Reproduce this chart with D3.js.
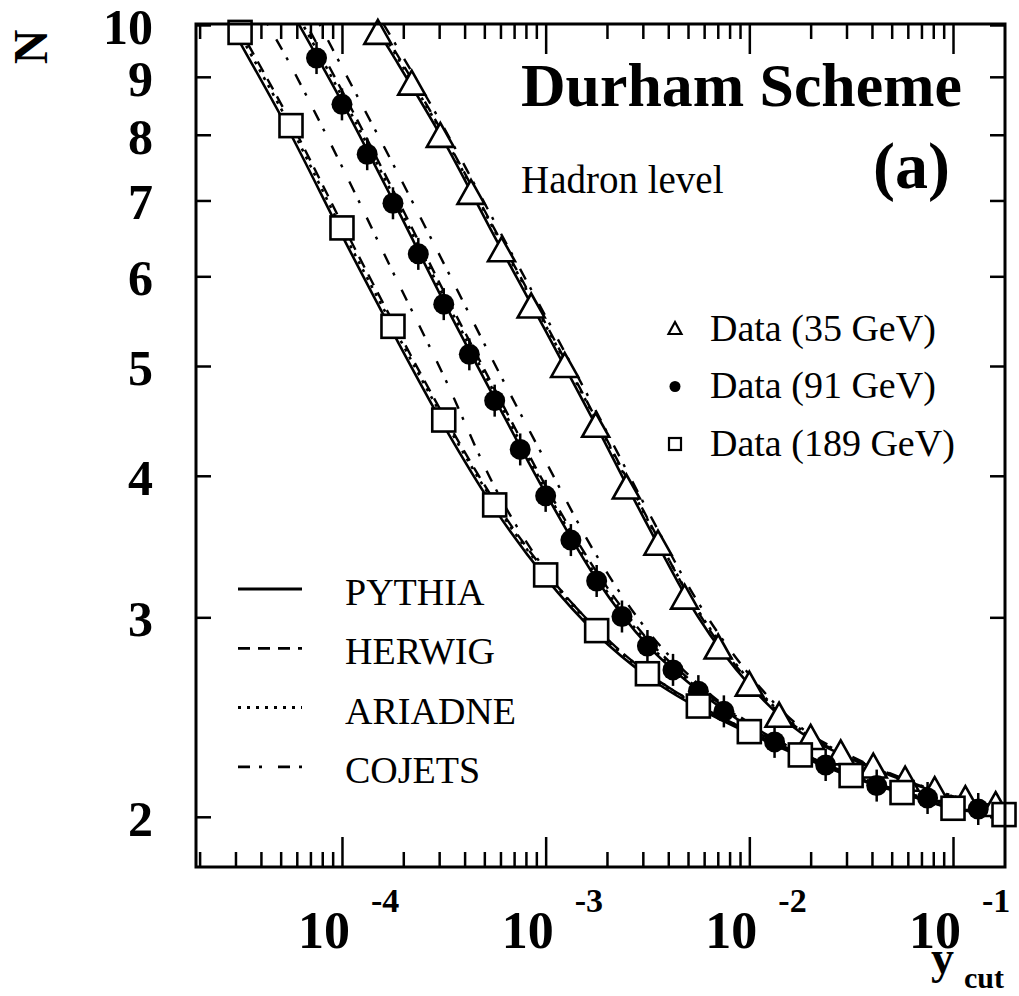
<!DOCTYPE html>
<html><head><meta charset="utf-8">
<script src="https://cdn.jsdelivr.net/npm/d3@7"></script>
<style>html,body{margin:0;padding:0;background:#fff;} svg{display:block;}</style>
</head><body>
<svg id="chart" width="1019" height="996"></svg>
<script>
// ---------------- data ----------------
// Data points (y_cut, mean jet multiplicity N)
const ycut35 = [1.50e-4, 2.20e-4, 3.04e-4, 4.30e-4, 6.07e-4, 8.49e-4, 1.24e-3, 1.76e-3, 2.49e-3, 3.56e-3, 4.81e-3, 7.03e-3, 1.00e-2, 1.40e-2, 2.00e-2, 2.81e-2, 4.06e-2, 5.82e-2, 8.13e-2, 0.115, 0.162];
const n35    = [9.80, 8.84, 7.95, 7.08, 6.30, 5.62, 4.98, 4.41, 3.89, 3.47, 3.11, 2.81, 2.606, 2.446, 2.338, 2.266, 2.206, 2.148, 2.103, 2.065, 2.040];

const ycut91 = [7.50e-5, 1.00e-4, 1.33e-4, 1.78e-4, 2.37e-4, 3.16e-4, 4.22e-4, 5.62e-4, 7.50e-4, 1.00e-3, 1.33e-3, 1.78e-3, 2.37e-3, 3.16e-3, 4.22e-3, 5.62e-3, 7.50e-3, 1.33e-2, 2.37e-2, 4.22e-2, 7.50e-2, 0.133];
const n91    = [9.35, 8.51, 7.69, 6.96, 6.28, 5.67, 5.12, 4.66, 4.22, 3.84, 3.51, 3.23, 3.005, 2.83, 2.696, 2.582, 2.478, 2.329, 2.222, 2.131, 2.078, 2.032];

const ycut189 = [3.16e-5, 5.62e-5, 1.00e-4, 1.78e-4, 3.16e-4, 5.62e-4, 1.00e-3, 1.78e-3, 3.16e-3, 5.62e-3, 1.00e-2, 1.78e-2, 3.16e-2, 5.62e-2, 0.100, 0.178];
const n189    = [9.85, 8.15, 6.62, 5.42, 4.48, 3.77, 3.27, 2.92, 2.675, 2.505, 2.378, 2.268, 2.175, 2.101, 2.035, 2.009];

// Monte Carlo curves
const mcYcut35  = [1.00e-4, 1.78e-4, 3.16e-4, 5.62e-4, 1.00e-3, 1.78e-3, 3.16e-3, 5.62e-3, 1.00e-2, 1.78e-2, 3.16e-2, 5.62e-2, 0.100, 0.178];
const pythia35  = [11.1, 9.40, 7.90, 6.50, 5.37, 4.42, 3.62, 3.00, 2.615, 2.375, 2.250, 2.156, 2.082, 2.036];
const herwig35  = [11.3, 9.55, 8.00, 6.60, 5.45, 4.48, 3.67, 3.03, 2.630, 2.385, 2.255, 2.160, 2.085, 2.037];
const ariadne35 = [11.25, 9.50, 7.98, 6.58, 5.43, 4.47, 3.66, 3.04, 2.640, 2.390, 2.258, 2.162, 2.086, 2.037];
const cojets35  = [11.5, 9.70, 8.12, 6.70, 5.53, 4.55, 3.73, 3.09, 2.670, 2.400, 2.262, 2.164, 2.087, 2.037];

const mcYcut91  = [5.62e-5, 1.00e-4, 1.78e-4, 3.16e-4, 5.62e-4, 1.00e-3, 1.78e-3, 3.16e-3, 5.62e-3, 1.00e-2, 1.78e-2, 3.16e-2, 5.62e-2, 0.100, 0.178];
const pythia91  = [10.3, 8.55, 7.00, 5.70, 4.68, 3.86, 3.24, 2.835, 2.585, 2.400, 2.270, 2.175, 2.100, 2.050, 2.020];
const herwig91  = [10.6, 8.75, 7.15, 5.82, 4.77, 3.92, 3.29, 2.870, 2.605, 2.415, 2.280, 2.180, 2.105, 2.052, 2.020];
const ariadne91 = [10.45, 8.65, 7.08, 5.76, 4.73, 3.89, 3.26, 2.850, 2.595, 2.410, 2.275, 2.178, 2.103, 2.051, 2.020];
const cojets91  = [11.2, 9.18, 7.54, 6.16, 5.02, 4.12, 3.40, 2.920, 2.620, 2.420, 2.280, 2.180, 2.105, 2.052, 2.020];

const mcYcut189  = [1.78e-5, 3.16e-5, 5.62e-5, 1.00e-4, 1.78e-4, 3.16e-4, 5.62e-4, 1.00e-3, 1.78e-3, 3.16e-3, 5.62e-3, 1.00e-2, 1.78e-2, 3.16e-2, 5.62e-2, 0.100, 0.178];
const pythia189  = [11.6, 9.65, 8.00, 6.52, 5.35, 4.43, 3.74, 3.25, 2.90, 2.660, 2.495, 2.370, 2.262, 2.170, 2.098, 2.034, 2.008];
const herwig189  = [11.9, 9.90, 8.20, 6.68, 5.47, 4.52, 3.80, 3.29, 2.93, 2.680, 2.510, 2.380, 2.270, 2.177, 2.102, 2.036, 2.009];
const ariadne189 = [11.8, 9.80, 8.12, 6.60, 5.42, 4.49, 3.78, 3.28, 2.92, 2.675, 2.505, 2.376, 2.267, 2.175, 2.100, 2.035, 2.009];
const cojets189  = [14.0, 11.1, 9.20, 7.50, 6.05, 4.90, 3.91, 3.30, 2.93, 2.680, 2.510, 2.380, 2.270, 2.177, 2.102, 2.036, 2.009];

// Axis tick labels
const xMajorTicks = [1e-4, 1e-3, 1e-2, 1e-1];
const xMajorExps  = ["-4", "-3", "-2", "-1"];
const yTicks      = [2, 3, 4, 5, 6, 7, 8, 9, 10];
const yTickLabels = ["2", "3", "4", "5", "6", "7", "8", "9", "10"];

// Legends
const modelNames  = ["PYTHIA", "HERWIG", "ARIADNE", "COJETS"];
const dataLabels  = ["Data (35 GeV)", "Data (91 GeV)", "Data (189 GeV)"];

// ---------------- drawing ----------------
const svg = d3.select("#chart");
const P = {left: 196, right: 1005, top: 24, bottom: 867};
const FONT = "'Liberation Serif','Times New Roman',serif";

const x = d3.scaleLog().domain([1.92e-5, 0.18]).range([P.left, P.right]);
const y = d3.scaleLog().domain([1.806, 10.02]).range([P.bottom, P.top]);

svg.append("rect").attr("width", 1019).attr("height", 996).attr("fill", "#fff");

svg.append("defs").append("clipPath").attr("id", "clip")
  .append("rect").attr("x", P.left).attr("y", P.top)
  .attr("width", P.right - P.left).attr("height", P.bottom - P.top);

// minor tick positions
const minorX = [];
[-5, -4, -3, -2, -1].forEach(e => {
  for (let k = 2; k <= 9; k++) {
    const v = k * Math.pow(10, e);
    if (v > x.domain()[0] && v < x.domain()[1]) minorX.push(v);
  }
});

function styleAxis(g) {
  g.select(".domain").remove();
  g.selectAll(".tick line").attr("stroke", "#000").attr("stroke-width", 2.5);
  g.selectAll(".tick text").remove();
}

// bottom axis (ticks inward = upward)
svg.append("g").attr("transform", `translate(0,${P.bottom})`)
  .call(d3.axisTop(x).tickValues(minorX).tickSize(15).tickFormat("")).call(styleAxis);
svg.append("g").attr("transform", `translate(0,${P.bottom})`)
  .call(d3.axisTop(x).tickValues(xMajorTicks).tickSize(30).tickFormat("")).call(styleAxis);
// top axis (ticks downward)
svg.append("g").attr("transform", `translate(0,${P.top})`)
  .call(d3.axisBottom(x).tickValues(minorX).tickSize(15).tickFormat("")).call(styleAxis);
svg.append("g").attr("transform", `translate(0,${P.top})`)
  .call(d3.axisBottom(x).tickValues(xMajorTicks).tickSize(30).tickFormat("")).call(styleAxis);
// left / right axes
svg.append("g").attr("transform", `translate(${P.left},0)`)
  .call(d3.axisRight(y).tickValues(yTicks).tickSize(15).tickFormat("")).call(styleAxis);
svg.append("g").attr("transform", `translate(${P.right},0)`)
  .call(d3.axisLeft(y).tickValues(yTicks).tickSize(15).tickFormat("")).call(styleAxis);

// y tick labels
svg.append("g").selectAll("text").data(yTicks).join("text")
  .attr("x", 153).attr("y", d => y(d) + 2)
  .attr("text-anchor", "end").attr("dominant-baseline", "central")
  .attr("font-family", FONT).attr("font-weight", "bold").attr("font-size", 50)
  .text((d, i) => yTickLabels[i]);

// x tick labels: 10^exp
const xl = svg.append("g");
xl.selectAll("text.base").data(xMajorTicks).join("text").attr("class", "base")
  .attr("x", d => x(d) - 18).attr("y", 948)
  .attr("text-anchor", "middle")
  .attr("font-family", FONT).attr("font-weight", "bold").attr("font-size", 52)
  .text("10");
xl.selectAll("text.exp").data(xMajorTicks).join("text").attr("class", "exp")
  .attr("x", d => x(d) + 29).attr("y", 912)
  .attr("text-anchor", "start")
  .attr("font-family", FONT).attr("font-weight", "bold").attr("font-size", 34)
  .text((d, i) => xMajorExps[i]);

// axis titles
svg.append("text").attr("transform", "translate(30,47) rotate(-90)")
  .attr("text-anchor", "middle").attr("dominant-baseline", "central")
  .attr("font-family", FONT).attr("font-weight", "bold").attr("font-size", 48).text("N");
svg.append("text").attr("x", 931).attr("y", 973)
  .attr("font-family", FONT).attr("font-weight", "bold").attr("font-size", 46).text("y");
svg.append("text").attr("x", 964).attr("y", 988)
  .attr("font-family", FONT).attr("font-weight", "bold").attr("font-size", 30).text("cut");

// MC curves
const dashes = [null, "12,8", "3,6", "12,9,3,16"];
const widths = [2.6, 2.4, 2.6, 2.4];
const mcSets = [
  {ycut: mcYcut35,  curves: [pythia35,  herwig35,  ariadne35,  cojets35]},
  {ycut: mcYcut91,  curves: [pythia91,  herwig91,  ariadne91,  cojets91]},
  {ycut: mcYcut189, curves: [pythia189, herwig189, ariadne189, cojets189]}
];
const curveG = svg.append("g").attr("clip-path", "url(#clip)");
mcSets.forEach(set => {
  set.curves.forEach((vals, m) => {
    const line = d3.line()
      .x((d, i) => x(set.ycut[i])).y(d => y(d))
      .curve(d3.curveMonotoneX);
    curveG.append("path").attr("d", line(vals))
      .attr("fill", "none").attr("stroke", "#000")
      .attr("stroke-width", widths[m])
      .attr("stroke-dasharray", dashes[m]);
  });
});

// markers
const triPath = "M0,-15L13.5,9L-13.5,9Z";
const mk = svg.append("g");
mk.selectAll("path.tri").data(n35).join("path").attr("class", "tri")
  .attr("transform", (d, i) => `translate(${x(ycut35[i])},${y(d)})`)
  .attr("d", triPath).attr("fill", "#fff").attr("stroke", "#000").attr("stroke-width", 2.6);
mk.selectAll("line.err").data(n91).join("line").attr("class", "err")
  .attr("x1", (d, i) => x(ycut91[i])).attr("x2", (d, i) => x(ycut91[i]))
  .attr("y1", d => y(d) - 16).attr("y2", d => y(d) + 16)
  .attr("stroke", "#000").attr("stroke-width", 2.5);
mk.selectAll("circle.c91").data(n91).join("circle").attr("class", "c91")
  .attr("cx", (d, i) => x(ycut91[i])).attr("cy", d => y(d))
  .attr("r", 10.5).attr("fill", "#000");
mk.selectAll("rect.sq").data(n189).join("rect").attr("class", "sq")
  .attr("x", (d, i) => x(ycut189[i]) - 11.5).attr("y", d => y(d) - 11.5)
  .attr("width", 23).attr("height", 23)
  .attr("fill", "#fff").attr("stroke", "#000").attr("stroke-width", 2.6);

// frame
svg.append("rect").attr("x", P.left).attr("y", P.top)
  .attr("width", P.right - P.left).attr("height", P.bottom - P.top)
  .attr("fill", "none").attr("stroke", "#000").attr("stroke-width", 3);

// titles inside
svg.append("text").attr("x", 521).attr("y", 106)
  .attr("font-family", FONT).attr("font-weight", "bold").attr("font-size", 61)
  .attr("textLength", 441).attr("lengthAdjust", "spacingAndGlyphs")
  .text("Durham Scheme");
svg.append("text").attr("x", 873).attr("y", 188)
  .attr("font-family", FONT).attr("font-weight", "bold").attr("font-size", 66).text("(a)");
svg.append("text").attr("x", 521).attr("y", 193)
  .attr("font-family", FONT).attr("font-size", 39).text("Hadron level");

// data legend
const dl = svg.append("g");
dataLabels.forEach((lab, i) => {
  const cy = 329 + i * 57.5;
  if (i === 0) {
    dl.append("path").attr("transform", `translate(675,${cy})`)
      .attr("d", "M0,-7L6.5,5L-6.5,5Z").attr("fill", "#fff").attr("stroke", "#000").attr("stroke-width", 2.2);
  } else if (i === 1) {
    dl.append("circle").attr("cx", 675).attr("cy", cy).attr("r", 5.5).attr("fill", "#000");
  } else {
    dl.append("rect").attr("x", 669).attr("y", cy - 6).attr("width", 12).attr("height", 12)
      .attr("fill", "#fff").attr("stroke", "#000").attr("stroke-width", 2.2);
  }
  dl.append("text").attr("x", 710).attr("y", cy + 11.5)
    .attr("font-family", FONT).attr("font-size", 38).text(lab);
});

// model legend
const ml = svg.append("g");
modelNames.forEach((name, i) => {
  const ly = 589 + i * 59.3;
  ml.append("line").attr("x1", 238).attr("x2", 302).attr("y1", ly).attr("y2", ly)
    .attr("stroke", "#000").attr("stroke-width", widths[i] + 0.4)
    .attr("stroke-dasharray", dashes[i]);
  ml.append("text").attr("x", 345).attr("y", ly + 16)
    .attr("font-family", FONT).attr("font-size", 38).text(name);
});
</script>
</body></html>
